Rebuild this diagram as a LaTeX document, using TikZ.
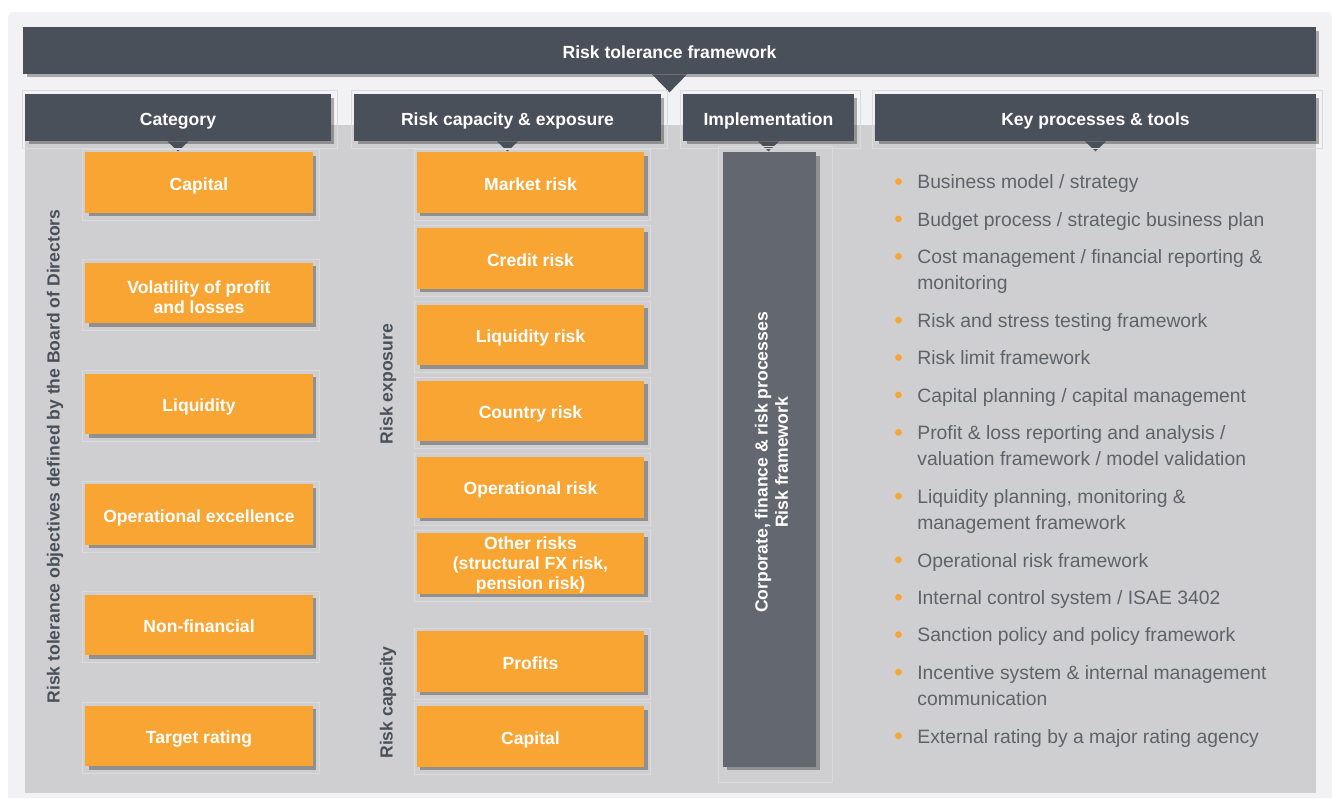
\documentclass[tikz,border=0pt]{standalone}
\usepackage{fontspec}
\setmainfont{Liberation Sans}
\usetikzlibrary{positioning,shadows,calc}
\definecolor{RTDark}{HTML}{4A505A}
\definecolor{RTOrange}{HTML}{F9A533}
\definecolor{RTPanel}{HTML}{CFCFD1}
\definecolor{RTBack}{HTML}{F2F2F4}
\definecolor{RTSlate}{HTML}{636770}
\definecolor{RTText}{HTML}{5E626A}
\newcommand\toppad[1]{\rule{0pt}{#1}}

\begin{document}
\begin{tikzpicture}[x=0.02cm, y=-0.02cm, node distance=0.3cm,
  every node/.style={font=\bfseries\fontsize{10}{11.5}\selectfont},
  boxshadow/.style={drop shadow={shadow xshift=0.07cm, shadow yshift=-0.07cm, fill=black, opacity=0.3}},
  head/.style={fill=RTDark, text=white, inner sep=0pt, minimum height=0.94cm, text height=8.8pt, text depth=0pt, boxshadow},
  riskbox/.style={fill=RTOrange, text=white, inner sep=0pt, align=center, minimum width=4.56cm, minimum height=1.21cm, text height=8.8pt, text depth=0pt, boxshadow},
  multiline/.style={text height=, text depth=},
  sidelabel/.style={rotate=90, text=RTDark, inner sep=0pt},
  item/.style={anchor=north west, align=left, inner sep=0pt, text=RTText, font=\fontsize{11}{15}\selectfont},
  halo/.style={draw=RTPanel!75!white, line width=0.4pt}]
  \useasboundingbox (0,0) rectangle (1332,798);
  \fill[RTBack] (8,798) [rounded corners=0.1cm] -- (8,12) -- (1332,12) [sharp corners] -- (1332,798) -- cycle;
  \fill[RTPanel] (25,125) rectangle (1316,793);

  % headers
  \node[head, minimum width=25.86cm] (title) at (669.5,50.5) {Risk tolerance framework};
  \node[head, minimum width=6.12cm] (hcat) at (178,117.5) {Category};
  \node[head, minimum width=6.14cm] (hrisk) at (507.5,117.5) {Risk capacity \& exposure};
  \node[head, minimum width=3.42cm] (himpl) at (768.5,117.5) {Implementation};
  \node[head, minimum width=8.82cm] (hkey) at (1095.5,117.5) {Key processes \& tools};
  \fill[RTDark] (title.south) ++(-17.5,0) -- ++(35,0) -- ++(-17.5,18) -- cycle;
  \foreach \h in {hcat,hrisk,himpl,hkey}
    \fill[RTDark] (\h.south) ++(-10.5,0) -- ++(21,0) -- ++(-10.5,10) -- cycle;

  % category column
  \node[riskbox] (cap) at (199,182.5) {Capital};
  \node[riskbox, multiline, below=0.99cm of cap] (vol) {\toppad{11.5pt}Volatility of profit\\and losses};
  \node[riskbox, below=0.99cm of vol] (liq) {Liquidity};
  \node[riskbox, below=0.99cm of liq] (opex) {Operational excellence};
  \node[riskbox, below=0.99cm of opex] (nonfin) {Non-financial};
  \node[riskbox, below=0.99cm of nonfin] (rating) {Target rating};

  % risk capacity & exposure column
  \node[riskbox] (mkt) at (530.5,182.5) {Market risk};
  \node[riskbox, below=of mkt] (cred) {Credit risk};
  \node[riskbox, below=of cred] (liqr) {Liquidity risk};
  \node[riskbox, below=of liqr] (ctry) {Country risk};
  \node[riskbox, below=of ctry] (oprisk) {Operational risk};
  \node[riskbox, multiline, below=of oprisk] (other) {\toppad{9pt}Other risks\\(structural FX risk,\\pension risk)};
  \node[riskbox, below=0.74cm of other] (prof) {Profits};
  \node[riskbox, below=0.27cm of prof] (cap2) {Capital};

  % implementation bar
  \node[fill=RTSlate, inner sep=0pt, minimum width=1.86cm, minimum height=12.3cm, boxshadow] (impl) at (769.5,459.5) {};
  \node[rotate=90, text=white, align=center, inner sep=0pt] (impltext) at ($(impl.center)+(2,3)$) {Corporate, finance \& risk processes\\Risk framework};

  % side labels
  \node[sidelabel] (objlbl) at (55,456.5) {Risk tolerance objectives defined by the Board of Directors};
  \node[sidelabel] (explbl) at (388,384) {Risk exposure};
  \node[sidelabel] (caplbl) at (388,702.5) {Risk capacity};

  % key processes list
  \node[item] (k1) at (917,170) {\strut Business model / strategy\strut};
  \node[item, below=0.207cm of k1.south west, anchor=north west] (k2) {\strut Budget process / strategic business plan\strut};
  \node[item, below=0.207cm of k2.south west, anchor=north west] (k3) {\strut Cost management / financial reporting \&\\monitoring\strut};
  \node[item, below=0.207cm of k3.south west, anchor=north west] (k4) {\strut Risk and stress testing framework\strut};
  \node[item, below=0.207cm of k4.south west, anchor=north west] (k5) {\strut Risk limit framework\strut};
  \node[item, below=0.207cm of k5.south west, anchor=north west] (k6) {\strut Capital planning / capital management\strut};
  \node[item, below=0.207cm of k6.south west, anchor=north west] (k7) {\strut Profit \& loss reporting and analysis /\\valuation framework / model validation\strut};
  \node[item, below=0.207cm of k7.south west, anchor=north west] (k8) {\strut Liquidity planning, monitoring \&\\management framework\strut};
  \node[item, below=0.207cm of k8.south west, anchor=north west] (k9) {\strut Operational risk framework\strut};
  \node[item, below=0.207cm of k9.south west, anchor=north west] (k10) {\strut Internal control system / ISAE 3402\strut};
  \node[item, below=0.207cm of k10.south west, anchor=north west] (k11) {\strut Sanction policy and policy framework\strut};
  \node[item, below=0.207cm of k11.south west, anchor=north west] (k12) {\strut Incentive system \& internal management\\communication\strut};
  \node[item, below=0.207cm of k12.south west, anchor=north west] (k13) {\strut External rating by a major rating agency\strut};
  \foreach \i in {1,...,13}
    \fill[RTOrange] (k\i.north west) ++(-18.5,11.5) circle (0.067cm);

  % faint frames round the blocks
  \foreach \n in {hcat,hrisk,himpl,hkey,cap,vol,liq,opex,nonfin,rating,mkt,cred,liqr,ctry,oprisk,other,prof,cap2}
    \draw[halo] ($(\n.north west)+(-2,-3)$) rectangle ($(\n.south east)+(6,7)$);
  \draw[halo] ($(impl.north west)+(-4,-5)$) rectangle ($(impl.south east)+(16,15)$);
\end{tikzpicture}
\end{document}
